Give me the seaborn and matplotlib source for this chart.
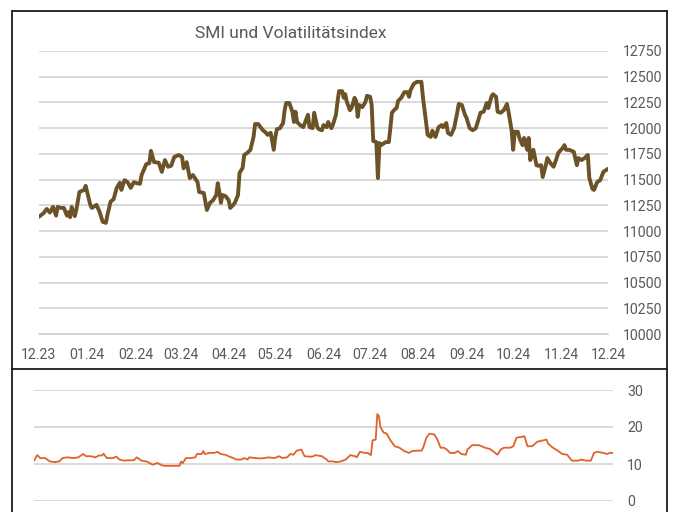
import pandas as pd
import matplotlib
matplotlib.use("Agg")
import matplotlib.pyplot as plt
from matplotlib.lines import Line2D
import seaborn as sns

# ============================================
# Data
# ============================================

smi_dates = [
    "2023-12-01", "2023-12-04", "2023-12-06", "2023-12-08", "2023-12-10", "2023-12-12",
    "2023-12-13", "2023-12-15", "2023-12-17", "2023-12-19", "2023-12-20", "2023-12-21",
    "2023-12-22", "2023-12-24", "2023-12-25", "2023-12-27", "2023-12-30", "2023-12-31",
    "2024-01-03", "2024-01-04", "2024-01-07", "2024-01-09", "2024-01-11", "2024-01-13",
    "2024-01-14", "2024-01-16", "2024-01-18", "2024-01-20", "2024-01-22", "2024-01-23",
    "2024-01-25", "2024-01-27", "2024-01-29", "2024-01-31", "2024-02-02", "2024-02-04",
    "2024-02-05", "2024-02-08", "2024-02-10", "2024-02-11", "2024-02-13", "2024-02-16",
    "2024-02-18", "2024-02-20", "2024-02-22", "2024-02-24", "2024-02-26", "2024-02-29",
    "2024-03-02", "2024-03-03", "2024-03-05", "2024-03-06", "2024-03-07", "2024-03-09",
    "2024-03-12", "2024-03-13", "2024-03-16", "2024-03-18", "2024-03-20", "2024-03-22",
    "2024-03-24", "2024-03-25", "2024-03-26", "2024-03-27", "2024-03-28", "2024-03-30",
    "2024-04-01", "2024-04-02", "2024-04-04", "2024-04-05", "2024-04-07", "2024-04-08",
    "2024-04-10", "2024-04-11", "2024-04-13", "2024-04-15", "2024-04-17", "2024-04-18",
    "2024-04-20", "2024-04-23", "2024-04-25", "2024-04-26", "2024-04-28", "2024-04-30",
    "2024-05-01", "2024-05-02", "2024-05-04", "2024-05-06", "2024-05-07", "2024-05-08",
    "2024-05-10", "2024-05-12", "2024-05-13", "2024-05-14", "2024-05-15", "2024-05-17",
    "2024-05-19", "2024-05-22", "2024-05-23", "2024-05-25", "2024-05-26", "2024-05-28",
    "2024-05-29", "2024-05-31", "2024-06-01", "2024-06-03", "2024-06-04", "2024-06-06",
    "2024-06-07", "2024-06-09", "2024-06-10", "2024-06-11", "2024-06-13", "2024-06-14",
    "2024-06-15", "2024-06-16", "2024-06-18", "2024-06-19", "2024-06-21", "2024-06-22",
    "2024-06-23", "2024-06-24", "2024-06-26", "2024-06-28", "2024-06-29", "2024-07-01",
    "2024-07-02", "2024-07-03", "2024-07-05", "2024-07-06", "2024-07-07", "2024-07-08",
    "2024-07-11", "2024-07-13", "2024-07-14", "2024-07-15", "2024-07-17", "2024-07-18",
    "2024-07-19", "2024-07-21", "2024-07-23", "2024-07-25", "2024-07-26", "2024-07-27",
    "2024-07-29", "2024-07-31", "2024-08-03", "2024-08-04", "2024-08-06", "2024-08-07",
    "2024-08-09", "2024-08-10", "2024-08-12", "2024-08-14", "2024-08-16", "2024-08-17",
    "2024-08-19", "2024-08-20", "2024-08-22", "2024-08-24", "2024-08-26", "2024-08-27",
    "2024-08-29", "2024-08-31", "2024-09-01", "2024-09-03", "2024-09-05", "2024-09-07",
    "2024-09-09", "2024-09-10", "2024-09-12", "2024-09-14", "2024-09-15", "2024-09-17",
    "2024-09-18", "2024-09-20", "2024-09-21", "2024-09-23", "2024-09-25", "2024-09-27",
    "2024-09-28", "2024-09-30", "2024-10-01", "2024-10-02", "2024-10-04", "2024-10-05",
    "2024-10-07", "2024-10-08", "2024-10-10", "2024-10-11", "2024-10-12", "2024-10-14",
    "2024-10-16", "2024-10-17", "2024-10-19", "2024-10-20", "2024-10-22", "2024-10-23",
    "2024-10-25", "2024-10-27", "2024-10-29", "2024-10-30", "2024-11-02", "2024-11-03",
    "2024-11-04", "2024-11-06", "2024-11-09", "2024-11-11", "2024-11-12", "2024-11-14",
    "2024-11-16", "2024-11-18", "2024-11-19", "2024-11-21", "2024-11-22", "2024-11-24",
    "2024-11-26", "2024-11-28", "2024-11-30", "2024-12-01",
]

smi_values = [
    11140, 11175, 11215, 11180, 11235, 11150,
    11235, 11225, 11225, 11150, 11185, 11135,
    11235, 11145, 11205, 11380, 11400, 11440,
    11255, 11225, 11255, 11185, 11090, 11080,
    11155, 11285, 11310, 11420, 11470, 11400,
    11495, 11475, 11420, 11475, 11465, 11460,
    11545, 11650, 11660, 11780, 11670, 11665,
    11575, 11690, 11625, 11635, 11720, 11740,
    11720, 11610, 11670, 11595, 11515, 11545,
    11475, 11380, 11370, 11205, 11275, 11300,
    11350, 11465, 11380, 11275, 11350, 11340,
    11300, 11225, 11255, 11275, 11350, 11565,
    11615, 11740, 11760, 11790, 11915, 12040,
    12040, 11980, 11955, 11935, 11955, 11790,
    11915, 11990, 12000, 12050, 12175, 12245,
    12245, 12160, 12060, 12160, 12060, 12030,
    12010, 12130, 12010, 12000, 12150, 12010,
    11990, 11980, 12030, 12010, 12060, 12000,
    12030, 12130, 12255, 12360, 12360, 12295,
    12330, 12255, 12175, 12195, 12295, 12265,
    12110, 12225, 12205, 12255, 12315, 12305,
    12225, 11875, 11865, 11515, 11855, 11835,
    11865, 11865, 12000, 12150, 12185, 12195,
    12265, 12295, 12350, 12350, 12305, 12370,
    12430, 12450, 12450, 12295, 12060, 11935,
    11915, 11975, 11915, 12010, 12030, 12010,
    12050, 11955, 11935, 12000, 12150, 12235,
    12225, 12130, 12100, 12000, 11980, 12000,
    12100, 12150, 12160, 12245, 12195, 12305,
    12330, 12305, 12160, 12150, 12175, 12235,
    12160, 11980, 11790, 11965, 11965, 11905,
    11835, 11905, 11790, 11905, 11690, 11790,
    11640, 11635, 11640, 11525, 11640, 11710,
    11660, 11625, 11710, 11760, 11810, 11835,
    11790, 11790, 11770, 11640, 11710, 11690,
    11710, 11740, 11515, 11410, 11400, 11475,
    11495, 11575, 11595, 11605,
]

vol_dates = [
    "2023-12-01", "2023-12-03", "2023-12-05", "2023-12-08", "2023-12-11", "2023-12-14",
    "2023-12-17", "2023-12-19", "2023-12-22", "2023-12-26", "2023-12-29", "2024-01-01",
    "2024-01-03", "2024-01-06", "2024-01-09", "2024-01-11", "2024-01-13", "2024-01-14",
    "2024-01-16", "2024-01-20", "2024-01-22", "2024-01-24", "2024-01-27", "2024-01-30",
    "2024-02-02", "2024-02-04", "2024-02-07", "2024-02-10", "2024-02-12", "2024-02-14",
    "2024-02-17", "2024-02-20", "2024-02-22", "2024-02-27", "2024-03-02", "2024-03-03",
    "2024-03-04", "2024-03-06", "2024-03-09", "2024-03-12", "2024-03-13", "2024-03-16",
    "2024-03-17", "2024-03-18", "2024-03-21", "2024-03-24", "2024-03-26", "2024-03-28",
    "2024-03-31", "2024-04-02", "2024-04-05", "2024-04-07", "2024-04-10", "2024-04-12",
    "2024-04-14", "2024-04-15", "2024-04-19", "2024-04-22", "2024-04-25", "2024-04-27",
    "2024-05-01", "2024-05-04", "2024-05-06", "2024-05-09", "2024-05-11", "2024-05-13",
    "2024-05-15", "2024-05-18", "2024-05-20", "2024-05-23", "2024-05-25", "2024-05-27",
    "2024-05-31", "2024-06-03", "2024-06-04", "2024-06-07", "2024-06-09", "2024-06-12",
    "2024-06-15", "2024-06-18", "2024-06-21", "2024-06-22", "2024-06-24", "2024-06-27",
    "2024-06-29", "2024-07-01", "2024-07-02", "2024-07-04", "2024-07-05", "2024-07-06",
    "2024-07-07", "2024-07-09", "2024-07-11", "2024-07-13", "2024-07-16", "2024-07-19",
    "2024-07-22", "2024-07-25", "2024-07-27", "2024-07-30", "2024-08-02", "2024-08-03",
    "2024-08-05", "2024-08-07", "2024-08-10", "2024-08-12", "2024-08-14", "2024-08-16",
    "2024-08-18", "2024-08-20", "2024-08-23", "2024-08-25", "2024-08-27", "2024-08-30",
    "2024-08-31", "2024-09-03", "2024-09-07", "2024-09-09", "2024-09-11", "2024-09-14",
    "2024-09-16", "2024-09-19", "2024-09-21", "2024-09-23", "2024-09-27", "2024-09-29",
    "2024-10-01", "2024-10-04", "2024-10-06", "2024-10-08", "2024-10-11", "2024-10-14",
    "2024-10-16", "2024-10-20", "2024-10-21", "2024-10-24", "2024-10-27", "2024-10-30",
    "2024-11-02", "2024-11-05", "2024-11-09", "2024-11-11", "2024-11-14", "2024-11-17",
    "2024-11-19", "2024-11-21", "2024-11-25", "2024-11-27", "2024-11-29", "2024-12-01",
]

vol_values = [
    10.9, 12.4, 11.6, 11.6, 10.7, 10.5,
    10.7, 11.6, 11.8, 11.6, 11.8, 12.7,
    12.1, 12.1, 11.8, 12.3, 12.3, 12.8,
    11.6, 11.6, 12.0, 11.2, 10.9, 11.0,
    11.0, 11.8, 10.9, 10.7, 10.3, 9.8,
    10.3, 9.6, 9.5, 9.5, 9.5, 10.7,
    10.2, 11.6, 11.6, 11.8, 12.7, 12.7,
    13.5, 12.7, 13.0, 13.0, 13.3, 12.7,
    12.5, 12.1, 11.6, 11.2, 11.2, 11.6,
    11.2, 11.8, 11.6, 11.5, 11.6, 11.8,
    11.6, 12.1, 11.6, 11.8, 12.7, 12.5,
    13.6, 13.9, 12.1, 12.0, 12.0, 12.4,
    12.1, 11.2, 10.7, 10.7, 10.5, 10.7,
    11.2, 12.4, 12.1, 11.8, 13.3, 13.0,
    13.0, 12.4, 16.4, 16.6, 23.5, 23.0,
    20.0, 18.5, 18.2, 16.6, 14.8, 14.4,
    13.5, 13.0, 13.5, 13.6, 13.6, 14.4,
    17.1, 18.2, 18.0, 16.6, 14.4, 14.4,
    13.9, 13.0, 13.0, 13.5, 12.7, 12.5,
    13.9, 15.1, 15.1, 14.8, 14.4, 14.1,
    13.5, 12.5, 13.9, 14.4, 14.4, 14.8,
    17.1, 17.3, 17.5, 14.8, 14.8, 16.0,
    16.2, 16.6, 15.5, 14.4, 13.6, 12.7,
    12.5, 10.9, 10.9, 11.2, 10.9, 10.9,
    13.0, 13.3, 13.0, 12.7, 13.0, 13.0,
]

smi_ticks = [10000, 10250, 10500, 10750, 11000, 11250, 11500,
             11750, 12000, 12250, 12500, 12750]
vol_ticks = [0, 10, 20, 30]
month_ticks = pd.date_range("2023-12-01", "2024-12-01", freq="MS")
month_labels = [d.strftime("%m.%y") for d in month_ticks]

title = "SMI und Volatilitätsindex"

smi_df = pd.DataFrame({"date": pd.to_datetime(smi_dates), "smi": smi_values})
vol_df = pd.DataFrame({"date": pd.to_datetime(vol_dates), "vol": vol_values})

# ============================================
# Style
# ============================================

sns.set_style("white")
plt.rcParams["font.family"] = ["Roboto", "DejaVu Sans"]

text_grey = "#595959"
grid_grey = "#d0d0d0"
smi_colour = "#6b5327"
vol_colour = "#e0622a"

W, H = 673, 512
fig = plt.figure(figsize=(W / 100, H / 100), dpi=100)


def box(left, top, right, bottom):
    # pixel box -> figure fraction rect
    return [left / W, 1 - bottom / H, (right - left) / W, (bottom - top) / H]


x_start = pd.Timestamp("2023-12-01")
x_end = pd.Timestamp("2024-12-01")

# ============================================
# Top panel: SMI
# ============================================

ax1 = fig.add_axes(box(39, 51, 608, 334))
sns.lineplot(data=smi_df, x="date", y="smi", ax=ax1, color=smi_colour,
             linewidth=2.8, estimator=None, sort=False)
ax1.set_xlim(x_start, x_end)
ax1.set_ylim(10000, 12750)
ax1.set_yticks(smi_ticks)
ax1.yaxis.tick_right()
ax1.grid(axis="y", color=grid_grey, linewidth=1.1)
ax1.set_axisbelow(True)
ax1.set_xticks(month_ticks)
ax1.set_xticklabels(month_labels)
ax1.tick_params(axis="x", length=5, width=1, color=grid_grey, pad=5,
                labelsize=10.2, labelcolor=text_grey)
ax1.tick_params(axis="y", length=0, pad=11, labelsize=10.2, labelcolor=text_grey)
for side in ["top", "left", "right"]:
    ax1.spines[side].set_visible(False)
ax1.spines["bottom"].set_color(grid_grey)
ax1.spines["bottom"].set_linewidth(1.1)
ax1.set_xlabel("")
ax1.set_ylabel("")

fig.text(291 / W, 1 - 34 / H, title, ha="center", va="center",
         fontsize=12.5, color=text_grey)

# ============================================
# Bottom panel: volatility index
# ============================================

ax2 = fig.add_axes(box(34, 390, 613, 501))
sns.lineplot(data=vol_df, x="date", y="vol", ax=ax2, color=vol_colour,
             linewidth=1.3, estimator=None, sort=False)
ax2.set_xlim(x_start, x_end)
ax2.set_ylim(0, 30)
ax2.set_yticks(vol_ticks)
ax2.yaxis.tick_right()
ax2.grid(axis="y", color=grid_grey, linewidth=1.1)
ax2.set_axisbelow(True)
ax2.set_xticks([])
ax2.tick_params(axis="y", length=0, pad=10, labelsize=10.2, labelcolor=text_grey)
for side in ["top", "left", "right", "bottom"]:
    ax2.spines[side].set_visible(False)
ax2.set_xlabel("")
ax2.set_ylabel("")

# ============================================
# Frame lines
# ============================================

frame = "#1a1a1a"
for xs, ys in [
    ([12, 12], [11, 512]),
    ([12, 667], [11, 11]),
    ([667, 667], [11, 512]),
    ([12, 667], [369, 369]),
]:
    fig.add_artist(Line2D([x / W for x in xs], [1 - y / H for y in ys],
                          color=frame, linewidth=1.3))

fig.savefig("out.png", dpi=100)
plt.close(fig)
